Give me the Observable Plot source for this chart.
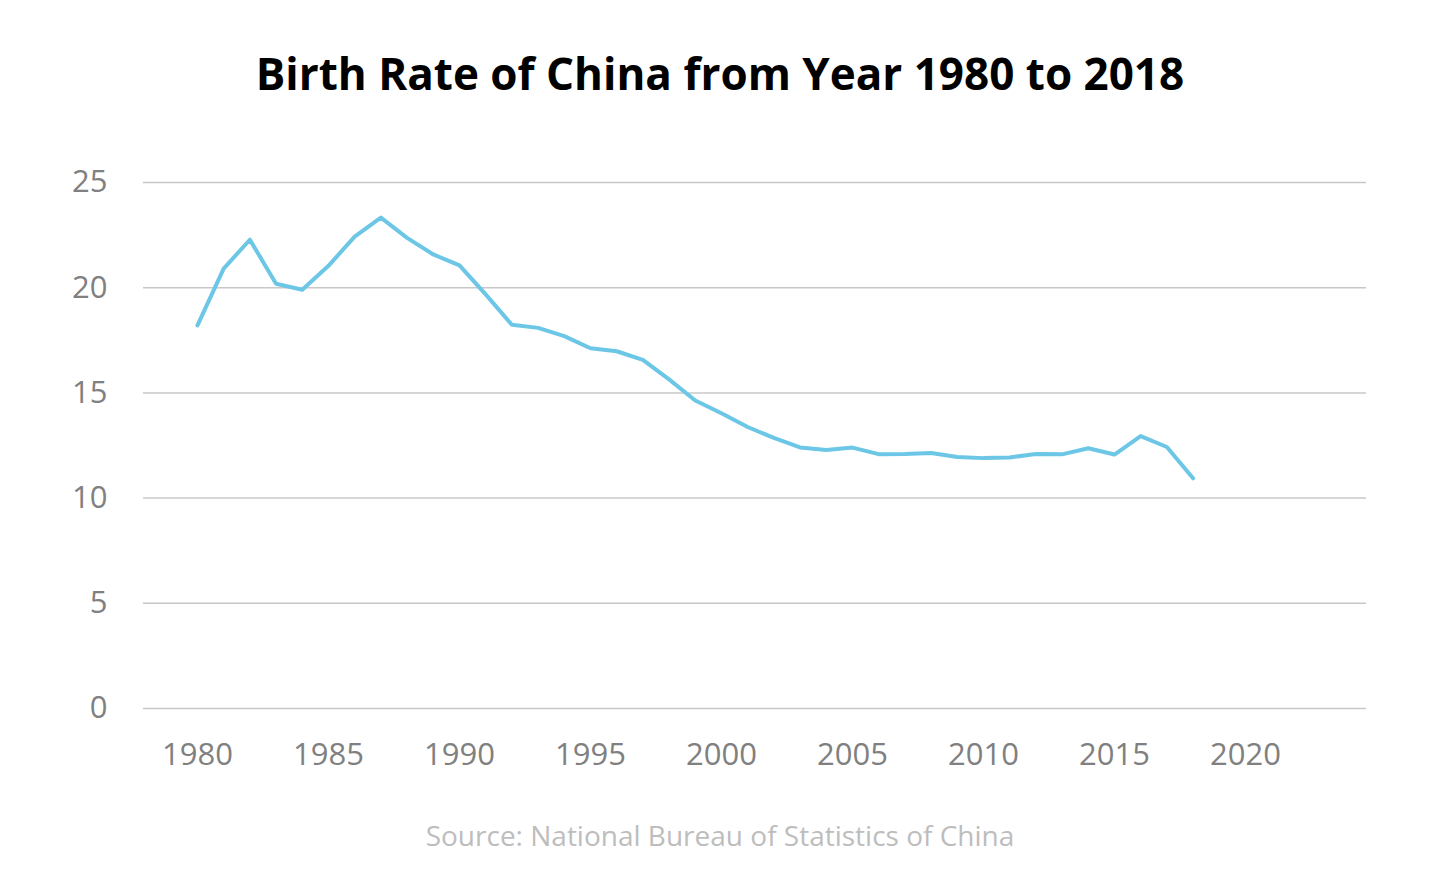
<!DOCTYPE html>
<html><head><meta charset="utf-8">
<script src="https://cdn.jsdelivr.net/npm/d3@7"></script>
<script src="https://cdn.jsdelivr.net/npm/@observablehq/plot@0.6"></script>
<style>
body{margin:0;background:#fff;font-family:"Open Sans",sans-serif;width:1440px;height:877px;overflow:hidden}
#title{height:120px;line-height:146px;text-align:center;font-weight:700;font-size:44px;color:#000;margin:0}
#chart svg{display:block}
#caption{text-align:center;font-size:28px;color:#bdbdbd;margin-top:16px}
</style></head>
<body>
<div id="title">Birth Rate of China from Year 1980 to 2018</div>
<div id="chart"></div>
<div id="caption">Source: National Bureau of Statistics of China</div>
<script>
const years = [1980,1981,1982,1983,1984,1985,1986,1987,1988,1989,1990,1991,1992,1993,1994,1995,1996,1997,1998,1999,2000,2001,2002,2003,2004,2005,2006,2007,2008,2009,2010,2011,2012,2013,2014,2015,2016,2017,2018];
const birthRate = [18.21,20.91,22.28,20.19,19.90,21.04,22.43,23.33,22.37,21.58,21.06,19.68,18.24,18.09,17.70,17.12,16.98,16.57,15.64,14.64,14.03,13.38,12.86,12.41,12.29,12.40,12.09,12.10,12.14,11.95,11.90,11.93,12.10,12.08,12.37,12.07,12.95,12.43,10.94];
const xTicks = [1980,1985,1990,1995,2000,2005,2010,2015,2020];
const yTicks = [0,5,10,15,20,25];
const data = years.map((y,i)=>({year:y, rate:birthRate[i]}));

const chart = Plot.plot({
  width:1440, height:680,
  marginTop:62, marginBottom:92, marginLeft:143, marginRight:74,
  style:{fontFamily:"Open Sans, sans-serif", fontSize:"31px", color:"#808080", background:"#fff"},
  x:{domain:[1977.94,2024.62], ticks:xTicks, tickFormat:d=>String(d), tickSize:0, tickPadding:34, label:null},
  y:{domain:[0,25], ticks:yTicks, tickSize:0, tickPadding:36, label:null},
  marks:[
    Plot.gridY(yTicks,{stroke:"#c8c8c8", strokeOpacity:1, strokeWidth:1.5}),
    Plot.axisX({ticks:xTicks, tickFormat:d=>String(d), tickSize:0, tickPadding:34, fill:"#808080", fontSize:31, label:null}),
    Plot.axisY({ticks:yTicks, tickSize:0, tickPadding:36, fill:"#808080", fontSize:31, label:null}),
    Plot.line(data,{x:"year", y:"rate", stroke:"#6cc6e6", strokeWidth:4, curve:"linear"})
  ]
});
document.getElementById("chart").appendChild(chart);
</script>
</body></html>
